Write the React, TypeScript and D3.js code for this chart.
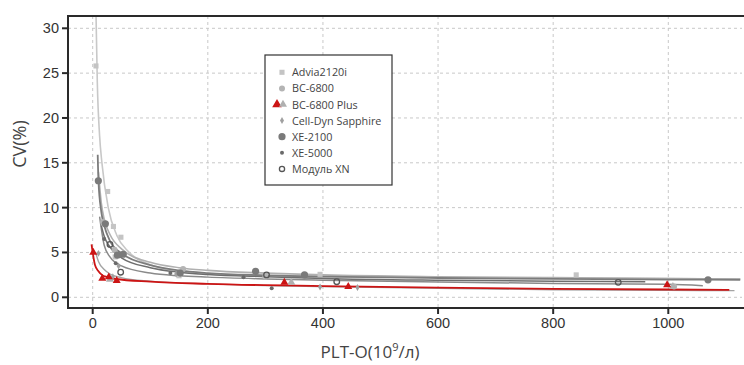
import { useEffect, useRef } from "react";
import * as d3 from "d3";

type Pt = [number, number];

// axis ticks
const xTicks = [0, 200, 400, 600, 800, 1000];
const yTicks = [0, 5, 10, 15, 20, 25, 30];

// legend labels
const seriesNames = [
  "Advia2120i",
  "BC-6800",
  "BC-6800 Plus",
  "Cell-Dyn Sapphire",
  "XE-2100",
  "XE-5000",
  "Модуль XN",
];

// measured points (PLT, CV)
const adviaPoints: Pt[] = [[5.7, 25.8], [26, 11.8], [36, 7.9], [49, 6.7], [39, 4.5], [150, 2.4], [395, 2.56], [840, 2.5]];
const bc6800Points: Pt[] = [[18, 8.4], [38, 5.3], [157, 3.15], [300, 2.3], [1010, 1.2]];
const bc6800PlusPoints: Pt[] = [[1, 5.0], [16.7, 2.1], [28, 2.26], [41.7, 1.85], [333, 1.67], [444, 1.18], [998, 1.37]];
const bc6800PlusGrayPoints: Pt[] = [[30, 2.0], [345, 1.67], [1008, 1.2]];
const cellDynPoints: Pt[] = [[10, 4.9], [35, 2.3], [45, 3.5], [145, 2.6], [395, 1.15], [460, 1.1]];
const xe2100Points: Pt[] = [[9.8, 13.0], [22, 8.2], [43, 4.7], [53, 4.8], [152, 2.7], [283, 2.9], [368, 2.5], [1069, 1.95]];
const xe5000Points: Pt[] = [[20, 6.5], [40, 3.8], [135, 2.7], [262, 2.23], [311, 1.0]];
const xnPoints: Pt[] = [[30, 5.9], [48.6, 2.8], [302, 2.5], [424, 1.74], [913, 1.67]];

// fitted curves
const adviaCurve: Pt[] = [[5.8, 31.4], [8, 24], [12, 18], [16, 15], [27, 10], [42, 6.9], [62, 5.1], [102, 3.6], [137, 3.0], [200, 2.6], [300, 2.4], [400, 2.3], [600, 2.2], [800, 2.15], [1000, 2.1], [1125, 2.05]];
const bc6800Curve: Pt[] = [[10, 14], [15, 10.5], [20, 8.7], [30, 7], [50, 5.4], [100, 3.9], [150, 3.3], [200, 3.0], [300, 2.7], [400, 2.5], [600, 2.3], [800, 2.2], [1000, 2.1], [1125, 2.05]];
const bc6800PlusCurve: Pt[] = [[-2, 5.9], [0, 5.0], [4, 3.6], [10, 2.9], [16, 2.5], [25, 2.25], [40, 2.04], [100, 1.75], [200, 1.5], [400, 1.25], [600, 1.08], [800, 0.95], [1000, 0.87], [1106, 0.82]];
const cellDynCurve: Pt[] = [[5, 5], [10, 4.0], [20, 3.1], [30, 2.6], [50, 2.2], [100, 1.8], [200, 1.5], [400, 1.2], [600, 1.0], [800, 0.85], [1000, 0.78], [1115, 0.74]];
const xe2100Curve: Pt[] = [[8.7, 15.9], [10, 13], [15, 9.5], [20, 8.0], [30, 6.3], [50, 4.9], [100, 3.6], [150, 3.0], [200, 2.7], [300, 2.45], [400, 2.3], [600, 2.15], [800, 2.05], [1000, 1.98], [1125, 1.95]];
const xe5000Curve: Pt[] = [[12, 9], [20, 5.8], [30, 4.5], [50, 3.5], [100, 2.7], [150, 2.4], [200, 2.25], [300, 2.05], [400, 1.9], [600, 1.7], [800, 1.55], [1000, 1.45], [1060, 1.3]];
const xnCurve: Pt[] = [[15, 8], [20, 6.8], [30, 5.6], [50, 4.4], [100, 3.3], [150, 2.8], [200, 2.55], [300, 2.3], [400, 2.1], [600, 1.9], [800, 1.8], [960, 1.74]];

export default function App() {
  const svgRef = useRef<SVGSVGElement>(null);

  useEffect(() => {
    if (!svgRef.current) return;
    const svg = d3.select(svgRef.current);
    svg.selectAll("*").remove();

    const left = 68, right = 742, top = 16, bottom = 308;

    const x = d3.scaleLinear().domain([0, 1000]).range([92.7, 668.3]);
    const y = d3.scaleLinear().domain([0, 30]).range([297.3, 28.3]);

    svg.append("defs").append("clipPath").attr("id", "plotclip")
      .append("rect").attr("x", left).attr("y", top).attr("width", right - left).attr("height", bottom - top);

    // grid
    const grid = svg.append("g").attr("stroke", "#c8c8c8").attr("stroke-dasharray", "3,3");
    xTicks.forEach((t) => {
      grid.append("line").attr("x1", x(t)).attr("x2", x(t)).attr("y1", top).attr("y2", bottom);
    });
    yTicks.forEach((t) => {
      grid.append("line").attr("x1", left).attr("x2", right).attr("y1", y(t)).attr("y2", y(t));
    });

    const plot = svg.append("g").attr("clip-path", "url(#plotclip)");
    const line = d3.line<Pt>().x((d) => x(d[0])).y((d) => y(d[1])).curve(d3.curveMonotoneX);

    const curves: [Pt[], string, number][] = [
      [adviaCurve, "#c8c8c8", 1.6],
      [bc6800Curve, "#b0b0b0", 1.6],
      [cellDynCurve, "#a4a4a4", 1.4],
      [xe5000Curve, "#8a8a8a", 1.5],
      [xnCurve, "#6e6e6e", 1.5],
      [xe2100Curve, "#7c7c7c", 1.8],
      [bc6800PlusCurve, "#cc1414", 1.8],
    ];
    curves.forEach(([data, color, w]) => {
      plot.append("path").datum(data).attr("fill", "none").attr("stroke", color)
        .attr("stroke-width", w).attr("d", line);
    });

    const tri = d3.symbol().type(d3.symbolTriangle).size(28);
    const sq = d3.symbol().type(d3.symbolSquare).size(26);
    const dia = d3.symbol().type(d3.symbolDiamond).size(14);

    adviaPoints.forEach((p) => {
      plot.append("path").attr("d", sq()).attr("fill", "#c4c4c4")
        .attr("transform", `translate(${x(p[0])},${y(p[1])})`);
    });
    bc6800Points.forEach((p) => {
      plot.append("circle").attr("cx", x(p[0])).attr("cy", y(p[1])).attr("r", 3).attr("fill", "#b4b4b4");
    });
    cellDynPoints.forEach((p) => {
      plot.append("path").attr("d", dia()).attr("fill", "#a0a0a0")
        .attr("transform", `translate(${x(p[0])},${y(p[1])})`);
    });
    xe5000Points.forEach((p) => {
      plot.append("circle").attr("cx", x(p[0])).attr("cy", y(p[1])).attr("r", 2).attr("fill", "#6a6a6a");
    });
    xe2100Points.forEach((p) => {
      plot.append("circle").attr("cx", x(p[0])).attr("cy", y(p[1])).attr("r", 3.6).attr("fill", "#7a7a7a");
    });
    xnPoints.forEach((p) => {
      plot.append("circle").attr("cx", x(p[0])).attr("cy", y(p[1])).attr("r", 2.8)
        .attr("fill", "none").attr("stroke", "#555").attr("stroke-width", 1.3);
    });
    bc6800PlusGrayPoints.forEach((p) => {
      plot.append("path").attr("d", tri()).attr("fill", "#b0b0b0")
        .attr("transform", `translate(${x(p[0])},${y(p[1])})`);
    });
    bc6800PlusPoints.forEach((p) => {
      plot.append("path").attr("d", tri()).attr("fill", "#cc1414")
        .attr("transform", `translate(${x(p[0])},${y(p[1])})`);
    });

    // frame
    svg.append("path").attr("fill", "none").attr("stroke", "#2a2a2a").attr("stroke-width", 2)
      .attr("d", `M${right + 2},${top}H${left}V${bottom}H${right + 2}`);

    // ticks
    const tickFont = "'Liberation Sans', Arial, sans-serif";
    yTicks.forEach((t) => {
      svg.append("line").attr("x1", left - 6).attr("x2", left).attr("y1", y(t)).attr("y2", y(t))
        .attr("stroke", "#2a2a2a").attr("stroke-width", 2);
      svg.append("text").attr("x", left - 9).attr("y", y(t) + 5).attr("text-anchor", "end")
        .attr("font-family", tickFont).attr("font-size", 14.5).attr("fill", "#333").text(t);
    });
    xTicks.forEach((t) => {
      svg.append("line").attr("x1", x(t)).attr("x2", x(t)).attr("y1", bottom).attr("y2", bottom + 6)
        .attr("stroke", "#2a2a2a").attr("stroke-width", 2);
      svg.append("text").attr("x", x(t)).attr("y", 328).attr("text-anchor", "middle")
        .attr("font-family", tickFont).attr("font-size", 14.5).attr("fill", "#333").text(t);
    });

    // axis titles
    const titleFont = "'Open Sans', sans-serif";
    const xt = svg.append("text").attr("x", 370).attr("y", 358).attr("text-anchor", "middle")
      .attr("font-family", titleFont).attr("font-size", 17).attr("fill", "#444");
    xt.append("tspan").text("PLT-O(10");
    xt.append("tspan").attr("font-size", 11).attr("dy", -7).text("9");
    xt.append("tspan").attr("dy", 7).text("/л)");

    svg.append("text").attr("transform", "translate(26,144) rotate(-90)").attr("text-anchor", "middle")
      .attr("font-family", titleFont).attr("font-size", 18).attr("fill", "#444").text("CV(%)");

    // legend
    const lg = svg.append("g");
    lg.append("rect").attr("x", 265).attr("y", 55).attr("width", 127).attr("height", 130)
      .attr("fill", "#fff").attr("stroke", "#333").attr("stroke-width", 1.2);
    seriesNames.forEach((name, i) => {
      const cy = 72.3 + i * 16.1;
      const cx = 282;
      if (i === 0) lg.append("path").attr("d", sq()).attr("fill", "#c4c4c4").attr("transform", `translate(${cx},${cy})`);
      if (i === 1) lg.append("circle").attr("cx", cx).attr("cy", cy).attr("r", 3).attr("fill", "#b4b4b4");
      if (i === 2) {
        lg.append("path").attr("d", d3.symbol().type(d3.symbolTriangle).size(40)()).attr("fill", "#cc1414").attr("transform", `translate(${cx - 5},${cy})`);
        lg.append("path").attr("d", tri()).attr("fill", "#b0b0b0").attr("transform", `translate(${cx + 1},${cy})`);
      }
      if (i === 3) lg.append("path").attr("d", dia()).attr("fill", "#a0a0a0").attr("transform", `translate(${cx},${cy})`);
      if (i === 4) lg.append("circle").attr("cx", cx).attr("cy", cy).attr("r", 3.6).attr("fill", "#7a7a7a");
      if (i === 5) lg.append("circle").attr("cx", cx).attr("cy", cy).attr("r", 2).attr("fill", "#6a6a6a");
      if (i === 6) lg.append("circle").attr("cx", cx).attr("cy", cy).attr("r", 2.6).attr("fill", "none").attr("stroke", "#555").attr("stroke-width", 1.3);
      lg.append("text").attr("x", 292).attr("y", cy + 4).attr("font-family", titleFont)
        .attr("font-size", 10.8).attr("fill", "#444").text(name);
    });
  }, []);

  return (
    <div style={{ position: "absolute", left: 0, top: 0 }}>
      <svg ref={svgRef} width={744} height={365} style={{ display: "block", background: "#fff" }} />
    </div>
  );
}
